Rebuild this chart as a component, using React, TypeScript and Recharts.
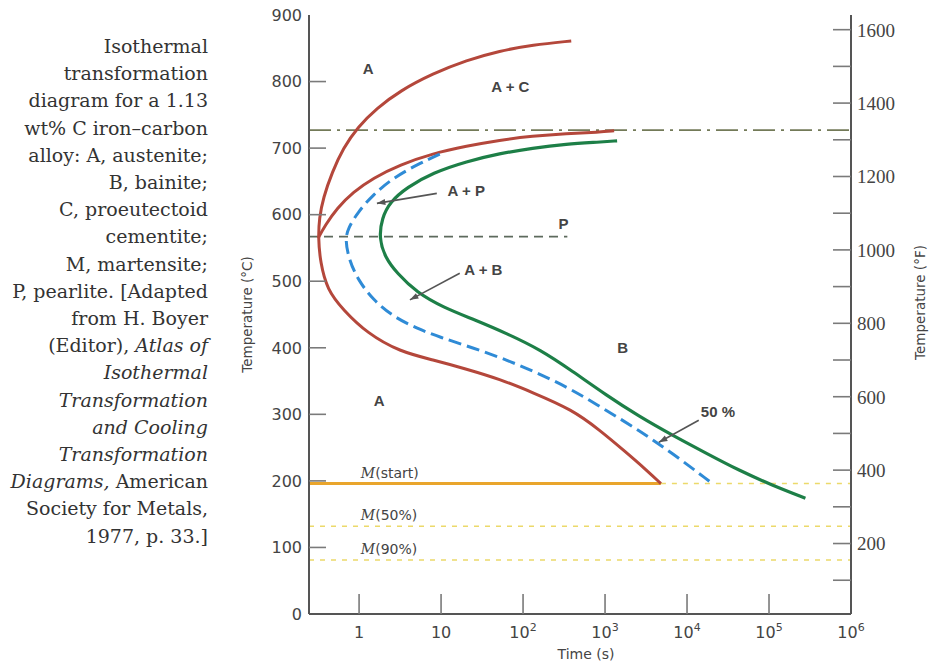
import React from 'react';
import { LineChart, Line, XAxis, YAxis, ReferenceLine, ReferenceDot, Label } from 'recharts';

// [time (s), temperature (°C)]
const cementiteStart: [number, number][] = [
  [387, 861], [130, 855], [51.7, 846], [20.5, 832], [7.93, 812], [3.15, 786], [1.65, 760],
  [0.97, 732], [0.64, 700], [0.47, 664], [0.365, 625], [0.327, 595], [0.318, 565], [0.336, 529],
  [0.408, 487], [0.64, 457], [1.25, 422], [3.15, 394], [7.93, 382], [20.5, 368], [51.7, 353],
  [130, 333], [398, 307], [848, 277], [1805, 243], [3158, 217], [4800, 196],
];
const pearliteStart: [number, number][] = [
  [1291, 726], [848, 724], [337, 722], [130, 718], [51.7, 712], [20.5, 703], [7.93, 692],
  [3.15, 675], [1.48, 655], [0.846, 634], [0.54, 610], [0.386, 584], [0.318, 565],
];
const halfway: [number, number][] = [
  [9.64, 691], [5.07, 675], [2.59, 655], [1.48, 630], [0.97, 604], [0.735, 580], [0.676, 562],
  [0.756, 532], [0.97, 502], [1.48, 472], [2.59, 447], [5.07, 429], [9.64, 416], [24.3, 400],
  [62.8, 382], [158, 361], [398, 337], [1031, 306], [2596, 276], [6535, 242], [19460, 198],
];
const finish: [number, number][] = [
  [1403, 711], [848, 709], [337, 706], [130, 700], [51.7, 692], [20.5, 680], [7.93, 663],
  [3.83, 641], [2.38, 619], [1.9, 595], [1.75, 565], [2.07, 536], [2.9, 512], [5.07, 483],
  [10.5, 461], [25.7, 442], [64.6, 421], [163, 397], [398, 365], [1031, 329], [2596, 297],
  [6535, 269], [16900, 242], [42600, 216], [107000, 194], [278000, 174],
];

const timeDomain = [0.245, 1e6];
const timeTicks = [1, 10, 100, 1000, 1e4, 1e5, 1e6];
const celsiusTicks = [0, 100, 200, 300, 400, 500, 600, 700, 800, 900];
const fahrenheitTicks = [100, 200, 300, 400, 500, 600, 700, 800, 900, 1000, 1100, 1200, 1300, 1400, 1500, 1600];
const fahrenheitDomain = [8, 1640];

const eutectoidTemp = 727;
const pearliteLineTemp = 567;
const pearliteLineEnd = 347;
const mLevels = [196, 132, 81];
const mNames = ['start', '50%', '90%'];
const mStartEnd = 4800;

// region labels: [time, temp, text]
const regions: [number, number, string][] = [
  [1.29, 819, 'A'], [70, 793, 'A + C'], [20.3, 636, 'A + P'], [312, 586, 'P'],
  [32.8, 517, 'A + B'], [1641, 401, 'B'], [1.76, 321, 'A'], [23800, 305, '50 %'],
];
// leader arrows: [fromTime, fromTemp, toTime, toTemp]
const leaders: [number, number, number, number][] = [
  [8.87, 632, 1.65, 617],
  [16.9, 512, 4.17, 472],
  [13900, 291, 4540, 258],
];

const caption: React.ReactNode[] = [
  'Isothermal', 'transformation', 'diagram for a 1.13', 'wt% C iron–carbon',
  'alloy: A, austenite;', 'B, bainite;', 'C, proeutectoid', 'cementite;', 'M, martensite;',
  'P, pearlite. [Adapted', 'from H. Boyer', <>(Editor), <i>Atlas of</i></>, <i>Isothermal</i>,
  <i>Transformation</i>, <i>and Cooling</i>, <i>Transformation</i>,
  <><i>Diagrams,</i> American</>, 'Society for Metals,', '1977, p. 33.]',
];

const pts = (pairs: [number, number][]) => pairs.map(([t, T]) => ({ t, T }));

const GAP = 7;
const AXIS = '#555';
const TICK = '#7a7a7a';
const sans = 'DejaVu Sans, sans-serif';

const LeftTick = ({ x, y, payload }: any) => {
  const ax = x + GAP;
  const v = payload.value;
  return (
    <g>
      {v > 0 && v < 900 && <line x1={ax} x2={ax + 17} y1={y} y2={y} stroke={TICK} strokeWidth={1.6} />}
      <text x={x} y={y} dy="0.36em" textAnchor="end" fontFamily={sans} fontSize={16} fill="#444">{v}</text>
    </g>
  );
};

const RightTick = ({ x, y, payload }: any) => {
  const ax = x - GAP;
  const v = payload.value;
  return (
    <g>
      <line x1={ax - 18} x2={ax} y1={y} y2={y} stroke={TICK} strokeWidth={1.6} />
      {v % 200 === 0 && (
        <text x={ax + 6} y={y} dy="0.36em" textAnchor="start" fontFamily="Liberation Serif, serif" fontSize={19} fill="#444">{v}</text>
      )}
    </g>
  );
};

const BottomTick = ({ x, y, payload }: any) => {
  const ay = y - GAP;
  const v = payload.value;
  const exp = Math.round(Math.log10(v));
  return (
    <g>
      {v < 1e6 && <line x1={x} x2={x} y1={ay} y2={ay - 20} stroke={TICK} strokeWidth={1.6} />}
      <text x={x} y={ay + 24} textAnchor="middle" fontFamily={sans} fontSize={16} fill="#444">
        {exp === 0 ? '1' : exp === 1 ? '10' : <>10<tspan dy={-7} fontSize={11}>{exp}</tspan></>}
      </text>
    </g>
  );
};

const TopTick = ({ x, y, payload }: any) => {
  const ay = y + GAP;
  return payload.value < 1e6 ? <line x1={x} x2={x} y1={ay} y2={ay + 20} stroke={TICK} strokeWidth={1.6} /> : <g />;
};

const AxisTitle = ({ viewBox, text, dx, dy }: any) => {
  const cx = viewBox.x + dx;
  const cy = viewBox.y + viewBox.height / 2 + dy;
  return (
    <text x={cx} y={cy} transform={`rotate(-90 ${cx} ${cy})`} textAnchor="middle" dominantBaseline="central"
      fontFamily={sans} fontSize={13.5} fill="#444">{text}</text>
  );
};

const Note = ({ viewBox, text }: any) => (
  <text x={viewBox.x} y={viewBox.y} textAnchor="middle" dominantBaseline="central"
    fontFamily="Liberation Sans, sans-serif" fontWeight="bold" fontSize={15} fill="#444">{text}</text>
);

const MNote = ({ viewBox, name }: any) => (
  <text x={viewBox.x} y={viewBox.y} dominantBaseline="central" fontFamily={sans} fontSize={14} fill="#444">
    <tspan fontFamily="DejaVu Serif, serif" fontStyle="italic">M</tspan>({name})
  </text>
);

const Leader = ({ x1, y1, x2, y2 }: any) => {
  const a = Math.atan2(y2 - y1, x2 - x1);
  const L = 9;
  const hx1 = x2 - L * Math.cos(a - 0.35);
  const hy1 = y2 - L * Math.sin(a - 0.35);
  const hx2 = x2 - L * Math.cos(a + 0.35);
  const hy2 = y2 - L * Math.sin(a + 0.35);
  return (
    <g>
      <line x1={x1} y1={y1} x2={x2} y2={y2} stroke="#555" strokeWidth={1.6} />
      <polygon points={`${x2},${y2} ${hx1},${hy1} ${hx2},${hy2}`} fill="#555" />
    </g>
  );
};

export default function App() {
  const ids = { xAxisId: 't', yAxisId: 'C' } as const;
  return (
    <div style={{ position: 'absolute', left: 0, top: 0, width: 930, height: 666, background: '#fff' }}>
      <div
        style={{
          position: 'absolute', left: 0, top: 33, width: 208, textAlign: 'right',
          fontFamily: 'DejaVu Serif, serif', fontSize: 19, lineHeight: '27.2px', color: '#333',
        }}
      >
        {caption.map((line, i) => (
          <div key={i} style={{ whiteSpace: 'nowrap' }}>{line}</div>
        ))}
      </div>
      <div style={{ position: 'absolute', left: 0, top: 0 }}>
        <LineChart width={930} height={666} margin={{ top: 15, right: 4, bottom: 4, left: 243 }}>
          <XAxis
            xAxisId="t" dataKey="t" type="number" scale="log" domain={timeDomain} allowDataOverflow
            ticks={timeTicks} tick={<BottomTick />} tickLine={false} tickSize={0} tickMargin={GAP}
            height={48} stroke={AXIS} strokeWidth={2}
          >
            <Label position="insideBottom" offset={3} value="Time (s)" fill="#444" fontFamily={sans} fontSize={14} dx={6} />
          </XAxis>
          <XAxis
            xAxisId="top" orientation="top" type="number" scale="log" domain={timeDomain} allowDataOverflow
            ticks={timeTicks} tick={<TopTick />} tickLine={false} tickSize={0} tickMargin={GAP}
            height={0} stroke={AXIS} strokeWidth={2}
          />
          <YAxis
            yAxisId="C" type="number" domain={[0, 900]} ticks={celsiusTicks} allowDataOverflow
            tick={<LeftTick />} tickLine={false} tickSize={0} tickMargin={GAP} width={66} stroke={AXIS} strokeWidth={2}
          >
            <Label content={<AxisTitle text="Temperature (°C)" dx={4} dy={0} />} />
          </YAxis>
          <YAxis
            yAxisId="F" orientation="right" type="number" domain={fahrenheitDomain} ticks={fahrenheitTicks} allowDataOverflow
            tick={<RightTick />} tickLine={false} tickSize={0} tickMargin={GAP} width={75} stroke={AXIS} strokeWidth={2}
          >
            <Label content={<AxisTitle text="Temperature (°F)" dx={69} dy={-12} />} />
          </YAxis>

          <ReferenceLine {...ids} y={eutectoidTemp} stroke="#737a58" strokeWidth={1.6} strokeDasharray="22 6 3 6" ifOverflow="visible" />
          <ReferenceLine
            {...ids} segment={[{ x: timeDomain[0], y: pearliteLineTemp }, { x: pearliteLineEnd, y: pearliteLineTemp }]}
            stroke="#5d6a5d" strokeWidth={1.6} strokeDasharray="9 6" ifOverflow="visible"
          />
          <ReferenceLine
            {...ids} segment={[{ x: mStartEnd, y: mLevels[0] }, { x: timeDomain[1], y: mLevels[0] }]}
            stroke="#ecd96a" strokeWidth={1.5} strokeDasharray="5 6" ifOverflow="visible"
          />
          <ReferenceLine {...ids} y={mLevels[1]} stroke="#ecd96a" strokeWidth={1.5} strokeDasharray="5 6" ifOverflow="visible" />
          <ReferenceLine {...ids} y={mLevels[2]} stroke="#ecd96a" strokeWidth={1.5} strokeDasharray="5 6" ifOverflow="visible" />
          <ReferenceLine
            {...ids} segment={[{ x: timeDomain[0], y: mLevels[0] }, { x: mStartEnd, y: mLevels[0] }]}
            stroke="#e9a52c" strokeWidth={3} ifOverflow="visible"
          />

          <Line {...ids} data={pts(cementiteStart)} dataKey="T" type="basis" stroke="#b4473b" strokeWidth={3} dot={false} activeDot={false} isAnimationActive={false} />
          <Line {...ids} data={pts(pearliteStart)} dataKey="T" type="basis" stroke="#b4473b" strokeWidth={3} dot={false} activeDot={false} isAnimationActive={false} />
          <Line {...ids} data={pts(halfway)} dataKey="T" type="basis" stroke="#2f8bd6" strokeWidth={3} strokeDasharray="13 6" dot={false} activeDot={false} isAnimationActive={false} />
          <Line {...ids} data={pts(finish)} dataKey="T" type="basis" stroke="#1d7f47" strokeWidth={3.2} dot={false} activeDot={false} isAnimationActive={false} />

          {leaders.map(([t1, T1, t2, T2], i) => (
            <ReferenceLine key={`l${i}`} {...ids} segment={[{ x: t1, y: T1 }, { x: t2, y: T2 }]} ifOverflow="visible" shape={(p: any) => <Leader {...p} />} />
          ))}
          {regions.map(([t, T, text], i) => (
            <ReferenceDot key={`r${i}`} {...ids} x={t} y={T} r={0} fill="none" stroke="none" ifOverflow="visible" label={<Note text={text} />} />
          ))}
          {mLevels.map((T, i) => (
            <ReferenceDot key={`m${i}`} {...ids} x={1.05} y={T + 16} r={0} fill="none" stroke="none" ifOverflow="visible" label={<MNote name={mNames[i]} />} />
          ))}
        </LineChart>
      </div>
    </div>
  );
}
